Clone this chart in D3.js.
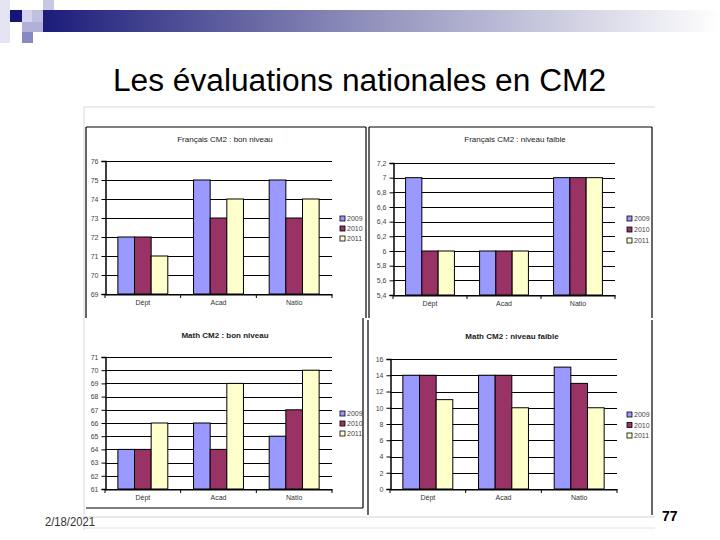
<!DOCTYPE html>
<html>
<head>
<meta charset="utf-8">
<script src="https://cdn.jsdelivr.net/npm/d3@7"></script>
<style>
  html, body { margin: 0; padding: 0; background: #fff; }
  svg { display: block; font-family: "Liberation Sans", Arial, sans-serif; }
</style>
</head>
<body>
<svg id="slide" width="720" height="540"></svg>
<script>
// ---- data ----
const categories = ["Dépt", "Acad", "Natio"];
const years = ["2009", "2010", "2011"];
const seriesColors = ["#9999FF", "#993366", "#FFFFCC"];

const frBonTitle = "Français CM2 : bon niveau";
const frBonValues = [[72, 75, 75], [72, 73, 73], [71, 74, 74]]; // rows = years
const frBonTicks = [69, 70, 71, 72, 73, 74, 75, 76];

const frFaibleTitle = "Français CM2 : niveau faible";
const frFaibleValues = [[7, 6, 7], [6, 6, 7], [6, 6, 7]];
const frFaibleTicks = [5.4, 5.6, 5.8, 6, 6.2, 6.4, 6.6, 6.8, 7, 7.2];

const mathBonTitle = "Math CM2 : bon niveau";
const mathBonValues = [[64, 66, 65], [64, 64, 67], [66, 69, 70]];
const mathBonTicks = [61, 62, 63, 64, 65, 66, 67, 68, 69, 70, 71];

const mathFaibleTitle = "Math CM2 : niveau faible";
const mathFaibleValues = [[14, 14, 15], [14, 14, 13], [11, 10, 10]];
const mathFaibleTicks = [0, 2, 4, 6, 8, 10, 12, 14, 16];

const slideTitle = "Les évaluations nationales en CM2";
const footerDate = "2/18/2021";
const pageNumber = "77";

// ---- slide decoration ----
const svg = d3.select("#slide");
const defs = svg.append("defs");
const grad = defs.append("linearGradient").attr("id", "band").attr("x1", "0").attr("x2", "1");
grad.append("stop").attr("offset", "0").attr("stop-color", "#1c1c7a");
grad.append("stop").attr("offset", "0.45").attr("stop-color", "#8a8ab8");
grad.append("stop").attr("offset", "1").attr("stop-color", "#ffffff");

svg.append("rect").attr("x", 43).attr("y", 10).attr("width", 677).attr("height", 22).attr("fill", "url(#band)");
const squares = [
  [0, 0, 10, 43, "#e4e4f2"],
  [43, 0, 11, 10, "#c8c8e4"],
  [22, 10, 21, 12, "#d4d4ec"],
  [32, 10, 11, 12, "#c0c0e0"],
  [22, 22, 21, 10, "#b0b0d8"],
  [22, 32, 11, 11, "#8888c4"],
  [10, 10, 12, 12, "#16167a"]
];
svg.selectAll("rect.sq").data(squares).join("rect").attr("class", "sq")
  .attr("x", d => d[0]).attr("y", d => d[1]).attr("width", d => d[2]).attr("height", d => d[3])
  .attr("fill", d => d[4]);

svg.append("text").attr("x", 113).attr("y", 91)
  .attr("font-size", 31).attr("fill", "#000")
  .attr("textLength", 493).attr("lengthAdjust", "spacingAndGlyphs").text(slideTitle);

// outer image frame (light grey)
svg.append("line").attr("x1", 84).attr("x2", 655).attr("y1", 107).attr("y2", 107).attr("stroke", "#d8d8d8");
svg.append("line").attr("x1", 84).attr("x2", 84).attr("y1", 107).attr("y2", 530).attr("stroke", "#d8d8d8");
svg.append("line").attr("x1", 84).attr("x2", 655).attr("y1", 517).attr("y2", 517).attr("stroke", "#d4d4d4");
svg.append("line").attr("x1", 84).attr("x2", 655).attr("y1", 528).attr("y2", 528).attr("stroke", "#e2e2e2");

// chart boxes (black frames)
const boxLines = [
  [86, 127, 366, 127], [86, 127, 86, 318], [366, 127, 366, 318],
  [369, 127, 652, 127], [369, 127, 369, 318], [652, 127, 652, 318],
  [363, 318, 363, 508], [86, 508, 363, 508],
  [368, 320, 368, 515], [652, 320, 652, 515]
];
svg.selectAll("line.box").data(boxLines).join("line").attr("class", "box")
  .attr("x1", d => d[0]).attr("y1", d => d[1]).attr("x2", d => d[2]).attr("y2", d => d[3])
  .attr("stroke", "#000").attr("stroke-width", 1.2);

// ---- chart function ----
function drawChart(opt) {
  const g = svg.append("g");
  const x = d3.scaleBand().domain(categories).range([opt.left, opt.right]).paddingInner(0).paddingOuter(0);
  const groupFrac = 0.66;
  const xi = d3.scaleBand().domain(years)
    .range([x.bandwidth() * (1 - groupFrac) / 2, x.bandwidth() * (1 + groupFrac) / 2]);
  const y = d3.scaleLinear().domain([opt.ticks[0], opt.ticks[opt.ticks.length - 1]]).range([opt.bottom, opt.top]);

  // title
  g.append("text").attr("x", opt.titleX).attr("y", opt.titleY).attr("text-anchor", "middle")
    .attr("font-size", 8).attr("font-weight", opt.boldTitle ? "bold" : "normal").attr("fill", "#222").text(opt.title);

  // gridlines
  g.append("g").selectAll("line").data(opt.ticks).join("line")
    .attr("x1", opt.left).attr("x2", opt.right)
    .attr("y1", d => Math.round(y(d)) + 0.5).attr("y2", d => Math.round(y(d)) + 0.5)
    .attr("stroke", "#000").attr("stroke-width", 1);

  // y axis
  const yAxis = d3.axisLeft(y).tickValues(opt.ticks).tickSize(4).tickPadding(3).tickFormat(opt.fmt);
  const ya = g.append("g").attr("transform", `translate(${opt.left + 0.5},0)`).call(yAxis);
  ya.select(".domain").attr("stroke", "#000").attr("stroke-width", 1.5);
  ya.selectAll(".tick line").attr("stroke", "#000");
  ya.selectAll("text").attr("font-size", 7).attr("fill", "#444").attr("font-family", "Liberation Sans, Arial, sans-serif");

  // bars
  const flat = [];
  years.forEach((yr, si) => categories.forEach((c, ci) => flat.push({ yr, c, v: opt.values[si][ci], si })));
  g.append("g").selectAll("rect").data(flat).join("rect")
    .attr("x", d => x(d.c) + xi(d.yr))
    .attr("width", xi.bandwidth())
    .attr("y", d => y(d.v))
    .attr("height", d => y(opt.ticks[0]) - y(d.v))
    .attr("fill", d => seriesColors[d.si])
    .attr("stroke", "#000").attr("stroke-width", 1);

  // x axis
  const xAxis = d3.axisBottom(x).tickSize(0).tickPadding(6);
  const xa = g.append("g").attr("transform", `translate(0,${opt.bottom + 0.5})`).call(xAxis);
  xa.select(".domain").attr("stroke", "#000").attr("stroke-width", 1.2);
  xa.selectAll("text").attr("font-size", 7).attr("fill", "#333").attr("font-family", "Liberation Sans, Arial, sans-serif");
  // category separator ticks
  const seps = categories.map(c => x(c)).concat([opt.right]);
  g.append("g").selectAll("line").data(seps).join("line")
    .attr("x1", d => d).attr("x2", d => d).attr("y1", opt.bottom).attr("y2", opt.bottom + 4)
    .attr("stroke", "#000");

  // legend
  const lg = g.append("g").attr("transform", `translate(${opt.legendX},${opt.legendY})`);
  const items = lg.selectAll("g").data(years).join("g")
    .attr("transform", (d, i) => `translate(0,${i * opt.legendStep})`);
  items.append("rect").attr("x", 0).attr("y", -5).attr("width", 5).attr("height", 5)
    .attr("fill", (d, i) => seriesColors[i]).attr("stroke", "#000").attr("stroke-width", 0.8);
  items.append("text").attr("x", 7).attr("y", 0).attr("font-size", 7).attr("fill", "#444").text(d => d);
}

const intFmt = d3.format("d");
const commaFmt = d => String(d).replace(".", ",");

drawChart({ title: frBonTitle, values: frBonValues, ticks: frBonTicks, fmt: intFmt,
  left: 105, right: 332, top: 161, bottom: 294, titleX: 225, titleY: 142,
  legendX: 340, legendY: 221, legendStep: 10 });
drawChart({ title: frFaibleTitle, values: frFaibleValues, ticks: frFaibleTicks, fmt: commaFmt,
  left: 393, right: 615, top: 163, bottom: 295, titleX: 515, titleY: 142,
  legendX: 627, legendY: 221, legendStep: 11 });
drawChart({ title: mathBonTitle, values: mathBonValues, ticks: mathBonTicks, fmt: intFmt, boldTitle: true,
  left: 105, right: 332, top: 357, bottom: 489, titleX: 225, titleY: 338,
  legendX: 340, legendY: 416, legendStep: 10 });
drawChart({ title: mathFaibleTitle, values: mathFaibleValues, ticks: mathFaibleTicks, fmt: intFmt, boldTitle: true,
  left: 390, right: 617, top: 359, bottom: 489, titleX: 512, titleY: 339,
  legendX: 627, legendY: 417, legendStep: 10.5 });

// footer
svg.append("text").attr("x", 45).attr("y", 526).attr("font-size", 13).attr("fill", "#333")
  .attr("textLength", 50).attr("lengthAdjust", "spacingAndGlyphs").text(footerDate);
svg.append("text").attr("x", 662).attr("y", 521).attr("font-size", 14).attr("font-weight", "bold")
  .attr("fill", "#000").text(pageNumber);
</script>
</body>
</html>
